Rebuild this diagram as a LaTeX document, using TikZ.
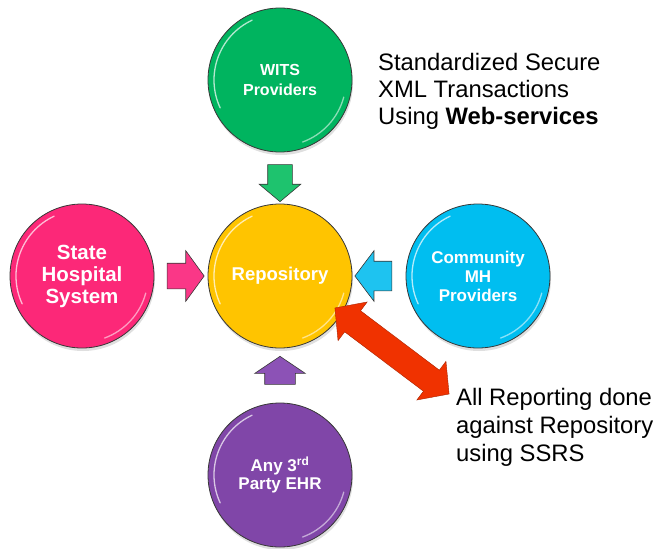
\documentclass[tikz,border=0pt]{standalone}
\usepackage{fontspec}
\setmainfont{Liberation Sans}
\usetikzlibrary{shapes.arrows,calc,shadows}
\definecolor{ballline}{RGB}{55,55,55}
\definecolor{cgreen}{RGB}{0,180,95}
\definecolor{cyellow}{RGB}{255,196,0}
\definecolor{cpink}{RGB}{252,40,120}
\definecolor{cblue}{RGB}{0,190,240}
\definecolor{cpurple}{RGB}{128,70,168}
\definecolor{agreen}{RGB}{30,195,110}
\definecolor{apink}{RGB}{250,55,135}
\definecolor{ablue}{RGB}{30,195,240}
\definecolor{apurple}{RGB}{140,82,182}
\definecolor{ared}{RGB}{240,50,0}
\begin{document}
\begin{tikzpicture}[x=1pt,y=-1pt,
  ball/.style={circle, minimum size=144pt, inner sep=0pt, draw=ballline, line width=0.8pt,
    text=white, align=center,
    drop shadow={shadow xshift=1pt, shadow yshift=-3pt, opacity=0.25}},
  blockarrow/.style={single arrow, draw=ballline, line width=0.6pt, inner xsep=0pt},
  note/.style={anchor=north west, inner sep=0pt, align=left}
]
\useasboundingbox (0,0) rectangle (660,548);

\node[ball, fill=cgreen, font=\bfseries\fontsize{16}{20}\selectfont] (wits) at (280,80) {WITS\\Providers};
\node[ball, fill=cyellow, font=\bfseries\fontsize{18.5}{22}\selectfont] (repo) at (280,276) {Repository};
\node[ball, fill=cpink, font=\bfseries\fontsize{20.5}{22}\selectfont] (state) at (82,276) {State\\Hospital\\System};
\node[ball, fill=cblue, font=\bfseries\fontsize{17}{19}\selectfont] (comm) at (478,276) {Community\\MH\\Providers};
\node[ball, fill=cpurple, font=\bfseries\fontsize{17}{18.5}\selectfont] (any) at (280,475) {Any 3\textsuperscript{rd}\\Party EHR};

\foreach \n in {wits,repo,state,comm,any} {
  \draw[white, opacity=0.7, line width=1.3pt, line cap=round]
    ($(\n.center)+(115:66pt)$) arc[start angle=115, end angle=205, radius=66pt];
  \draw[white, opacity=0.55, line width=1.3pt, line cap=round]
    ($(\n.center)+(-15:66pt)$) arc[start angle=-15, end angle=-70, radius=66pt];
}

\node[blockarrow, fill=agreen, rotate=-90, minimum height=37pt, inner ysep=12pt,
  single arrow head extend=8.5pt, single arrow tip angle=100] (a1) at ($(wits.south)!0.5!(repo.north)$) {};
\node[blockarrow, fill=apink, minimum height=37pt, inner ysep=12.5pt,
  single arrow head extend=12.5pt, single arrow tip angle=108] (a2) at ($(state.east)!0.5!(repo.west)$) {};
\node[blockarrow, fill=ablue, rotate=180, minimum height=37pt, inner ysep=14.5pt,
  single arrow head extend=10.5pt, single arrow tip angle=106] (a3) at ($(comm.west)!0.5!(repo.east)$) {};
\node[blockarrow, fill=apurple, rotate=90, minimum height=28pt, inner ysep=15pt,
  single arrow head extend=10pt, single arrow tip angle=112] (a4) at ($(any.north)!0.5!(repo.south)$) {};

\node[note, font=\fontsize{23.8}{26.8}\selectfont] (top) at (378,53) {Standardized Secure\\XML Transactions\\Using \textbf{Web-services}};
\node[note, font=\fontsize{23.8}{28}\selectfont] (rep) at (456,388) {All Reporting done\\against Repository\\using SSRS};

\coordinate (redmid) at (392,351);
\node[double arrow, fill=ared, draw=ared!70!black, line width=0.4pt, rotate=-37,
  minimum height=143pt, inner xsep=0pt, inner ysep=13pt,
  double arrow head extend=11pt, double arrow tip angle=95] (red) at (redmid) {};
\end{tikzpicture}
\end{document}
